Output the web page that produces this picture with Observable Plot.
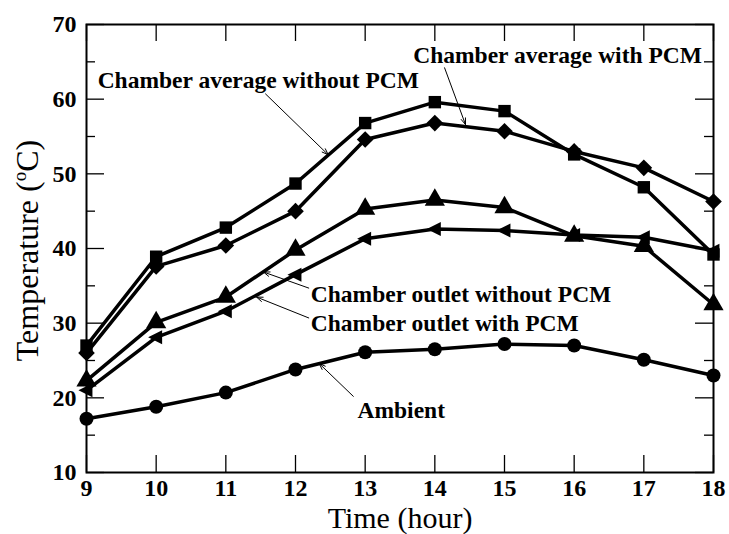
<!DOCTYPE html>
<html><head><meta charset="utf-8">
<script src="https://cdn.jsdelivr.net/npm/d3@7"></script>
<script src="https://cdn.jsdelivr.net/npm/@observablehq/plot@0.6"></script>
<style>body{margin:0;background:#fff}</style>
</head><body><div id="chart"></div>
<script>
const hours = [9, 10, 11, 12, 13, 14, 15, 16, 17, 18];
const ambient = [17.2, 18.8, 20.7, 23.8, 26.1, 26.5, 27.2, 27.0, 25.1, 23.0];
const avgWithoutPCM = [27.0, 38.9, 42.8, 48.7, 56.8, 59.6, 58.4, 52.6, 48.2, 39.2];
const avgWithPCM = [26.0, 37.6, 40.4, 45.0, 54.6, 56.8, 55.7, 53.0, 50.8, 46.3];
const outletWithoutPCM = [22.3, 30.1, 33.5, 39.8, 45.3, 46.5, 45.5, 41.7, 40.3, 32.5];
const outletWithPCM = [21.0, 28.1, 31.6, 36.5, 41.3, 42.6, 42.4, 41.8, 41.5, 39.7];

const xTicks = [9, 10, 11, 12, 13, 14, 15, 16, 17, 18];
const yMajor = [10, 20, 30, 40, 50, 60, 70];
const yMinor = [15, 25, 35, 45, 55, 65];

const labelTexts = ["Chamber average without PCM", "Chamber average with PCM", "Chamber outlet without PCM", "Chamber outlet with PCM", "Ambient"];
const labelX = [9.16, 13.69, 12.22, 12.22, 12.89];
const labelY = [61.5, 64.9, 32.8, 28.9, 17.25];
const arrowX1 = [11.57, 14.14, 12.19, 12.19, 12.83];
const arrowY1 = [60.7, 64.2, 34.7, 30.7, 20.2];
const arrowX2 = [12.47, 14.44, 11.54, 11.44, 12.34];
const arrowY2 = [52.55, 56.6, 36.85, 33.5, 24.6];

const W = 729, H = 534, ML = 86, MR = 16, MT = 24, MB = 62;
const PW = W - ML - MR, PH = H - MT - MB;

const leftTriangle = {
  draw(ctx, size) {
    const s = Math.sqrt(size / Math.PI);
    ctx.moveTo(-s * 1.15, 0);
    ctx.lineTo(s * 0.85, -s * 1.0);
    ctx.lineTo(s * 0.85, s * 1.0);
    ctx.closePath();
  }
};

const series = [
  {name: "Ambient", values: ambient, symbol: "circle", r: 7},
  {name: "Chamber average without PCM", values: avgWithoutPCM, symbol: "square", r: 7},
  {name: "Chamber average with PCM", values: avgWithPCM, symbol: "diamond2", r: 7.5},
  {name: "Chamber outlet without PCM", values: outletWithoutPCM, symbol: "triangle", r: 7.5},
  {name: "Chamber outlet with PCM", values: outletWithPCM, symbol: leftTriangle, r: 7}
];

const labels = labelTexts.map((t, i) => ({text: t, x: labelX[i], y: labelY[i]}));
const arrows = arrowX1.map((_, i) => ({x1: arrowX1[i], y1: arrowY1[i], x2: arrowX2[i], y2: arrowY2[i]}));

const marks = [];
for (const s of series) {
  const data = hours.map((h, i) => ({hour: h, temp: s.values[i]}));
  marks.push(Plot.line(data, {x: "hour", y: "temp", stroke: "black", strokeWidth: 3.5}));
  marks.push(Plot.dot(data, {x: "hour", y: "temp", symbol: s.symbol, r: s.r, fill: "black", stroke: "none"}));
}

const tickStroke = {stroke: "black", strokeWidth: 1.3};

const chart = Plot.plot({
  width: W,
  height: H,
  marginLeft: ML,
  marginRight: MR,
  marginTop: MT,
  marginBottom: MB,
  style: {fontFamily: "Liberation Serif", background: "white", color: "black"},
  x: {domain: [9, 18], label: null},
  y: {domain: [10, 70], label: null},
  marks: [
    Plot.axisX(xTicks, {anchor: "bottom", tickSize: 0, tickPadding: 6, fontSize: 24, fontWeight: "bold"}),
    Plot.axisY(yMajor, {anchor: "left", tickSize: 0, tickPadding: 10, fontSize: 24, fontWeight: "bold"}),
    Plot.tickX(xTicks, {x: d => d, insetTop: PH - 17, ...tickStroke}),
    Plot.tickX(xTicks, {x: d => d, insetBottom: PH - 17, ...tickStroke}),
    Plot.tickY(yMajor, {y: d => d, insetRight: PW - 18, ...tickStroke}),
    Plot.tickY(yMinor, {y: d => d, insetRight: PW - 9, ...tickStroke}),
    Plot.tickY(yMajor, {y: d => d, insetLeft: PW - 18, ...tickStroke}),
    Plot.tickY(yMinor, {y: d => d, insetLeft: PW - 9, ...tickStroke}),
    ...marks,
    Plot.frame({stroke: "black", strokeWidth: 2}),
    Plot.arrow(arrows, {x1: "x1", y1: "y1", x2: "x2", y2: "y2", stroke: "black", strokeWidth: 1, headLength: 10, headAngle: 40, bend: 0}),
    Plot.text(labels, {x: "x", y: "y", text: "text", textAnchor: "start", lineAnchor: "bottom", fontSize: 23.5, fontWeight: "bold", fill: "black"}),
    Plot.text(["Time (hour)"], {frameAnchor: "bottom", textAnchor: "middle", lineAnchor: "bottom", dy: 55, fontSize: 30, fill: "black"}),
    Plot.text(["Temperature (oC)"], {frameAnchor: "left", textAnchor: "middle", lineAnchor: "middle", rotate: -90, dx: -59, dy: 2, fontSize: 32, fill: "black"})
  ]
});

// render the "o" of the unit as a superscript
d3.select(chart).selectAll("text").each(function() {
  if (this.textContent === "Temperature (oC)") {
    const t = d3.select(this);
    t.text(null);
    t.append("tspan").text("Temperature (");
    t.append("tspan").attr("font-size", 19).attr("dy", -12).text("o");
    t.append("tspan").attr("dy", 12).text("C)");
  }
});
document.getElementById("chart").appendChild(chart);
</script>
</body></html>
